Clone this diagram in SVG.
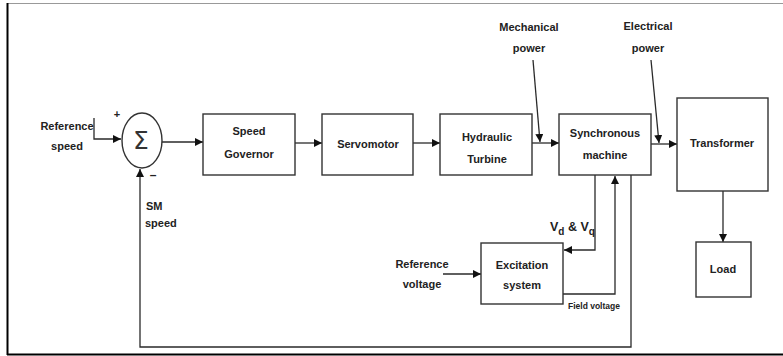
<svg xmlns="http://www.w3.org/2000/svg" width="783" height="356" viewBox="0 0 783 356">
<style>
  .box { fill: #fff; stroke: #333; stroke-width: 1.4; }
  .ln { fill: none; stroke: #2a2a2a; stroke-width: 1.3; }
  text { font-family: "Liberation Sans", Arial, sans-serif; font-size: 11px; font-weight: bold; fill: #222; }
  .c { text-anchor: middle; }
</style>
<defs>
  <marker id="ah" viewBox="0 0 10 10" refX="10" refY="5" markerWidth="8" markerHeight="8" markerUnits="userSpaceOnUse" orient="auto">
    <path d="M0,0 L10,5 L0,10 z" fill="#111"/>
  </marker>
</defs>
<rect width="783" height="356" fill="#fff"/>
<!-- frame -->
<line x1="7" y1="3.5" x2="783" y2="3.5" stroke="#999" stroke-width="1.2"/>
<line x1="7.5" y1="3" x2="7.5" y2="355" stroke="#000" stroke-width="2"/>
<line x1="7" y1="354.5" x2="783" y2="354.5" stroke="#000" stroke-width="2"/>

<g id="connectors">
  <polyline class="ln" points="94,118 94,139 121,139" marker-end="url(#ah)"/>
  <line class="ln" x1="162" y1="142" x2="203" y2="142" marker-end="url(#ah)"/>
  <line class="ln" x1="295" y1="143" x2="322" y2="143" marker-end="url(#ah)"/>
  <line class="ln" x1="413" y1="143" x2="440" y2="143" marker-end="url(#ah)"/>
  <line class="ln" x1="532" y1="143" x2="559" y2="143" marker-end="url(#ah)"/>
  <line class="ln" x1="533" y1="60" x2="540" y2="142" marker-end="url(#ah)"/>
  <line class="ln" x1="651" y1="144" x2="677" y2="144" marker-end="url(#ah)"/>
  <line class="ln" x1="651" y1="60" x2="659" y2="143" marker-end="url(#ah)"/>
  <line class="ln" x1="723" y1="191" x2="723" y2="242" marker-end="url(#ah)"/>
  <polyline class="ln" points="595,175 595,250 564,250" marker-end="url(#ah)"/>
  <polyline class="ln" points="563,294 615,294 615,176" marker-end="url(#ah)"/>
  <line class="ln" x1="443" y1="274" x2="481" y2="274" marker-end="url(#ah)"/>
  <polyline class="ln" points="631,175 631,347 140,347 140,169" marker-end="url(#ah)"/>
</g>

<g id="sum">
  <ellipse cx="142" cy="140.5" rx="20" ry="27.5" fill="#fff" stroke="#333" stroke-width="1.4"/>
  <text x="141" y="149" class="c" style="font-family:'DejaVu Sans',sans-serif;font-size:25px;font-weight:normal;fill:#333">Σ</text>
  <text x="117" y="118" class="c" style="font-size:11px">+</text>
  <text x="153" y="179" class="c" style="font-size:12px">–</text>
</g>

<g id="ref-speed">
  <text x="67" y="130" class="c">Reference</text>
  <text x="67" y="150" class="c">speed</text>
</g>
<g id="sm-speed">
  <text x="146" y="210">SM</text>
  <text x="145" y="227">speed</text>
</g>

<g id="speed-governor">
  <rect class="box" x="203" y="114" width="92" height="61"/>
  <text x="249" y="135" class="c">Speed</text>
  <text x="249" y="158" class="c">Governor</text>
</g>
<g id="servomotor">
  <rect class="box" x="322" y="114" width="91" height="61"/>
  <text x="368" y="148" class="c">Servomotor</text>
</g>
<g id="hydraulic-turbine">
  <rect class="box" x="440" y="114" width="92" height="61"/>
  <text x="487" y="141" class="c">Hydraulic</text>
  <text x="487" y="163" class="c">Turbine</text>
</g>
<g id="mech-power">
  <text x="529" y="31" class="c">Mechanical</text>
  <text x="529" y="52" class="c">power</text>
</g>
<g id="synchronous-machine">
  <rect class="box" x="559" y="114" width="92" height="61"/>
  <text x="605" y="137" class="c">Synchronous</text>
  <text x="605" y="159" class="c">machine</text>
</g>
<g id="elec-power">
  <text x="648" y="30" class="c">Electrical</text>
  <text x="648" y="52" class="c">power</text>
</g>
<g id="transformer">
  <rect class="box" x="677" y="98" width="91" height="93"/>
  <text x="722" y="147" class="c">Transformer</text>
</g>
<g id="load">
  <rect class="box" x="696" y="242" width="55" height="55"/>
  <text x="723" y="273" class="c">Load</text>
</g>
<g id="excitation-system">
  <rect class="box" x="481" y="243" width="82" height="61"/>
  <text x="522" y="269" class="c">Excitation</text>
  <text x="522" y="289" class="c">system</text>
</g>
<g id="ref-voltage">
  <text x="422" y="268" class="c">Reference</text>
  <text x="422" y="288" class="c">voltage</text>
</g>
<g id="vd-vq">
  <text x="550" y="231" style="font-size:12.5px">V<tspan dy="4" style="font-size:10px">d</tspan><tspan dy="-4"> &amp; V</tspan><tspan dy="4" style="font-size:10px">q</tspan></text>
</g>
<g id="field-voltage">
  <text x="568" y="309" style="font-size:8.5px">Field voltage</text>
</g>
</svg>
